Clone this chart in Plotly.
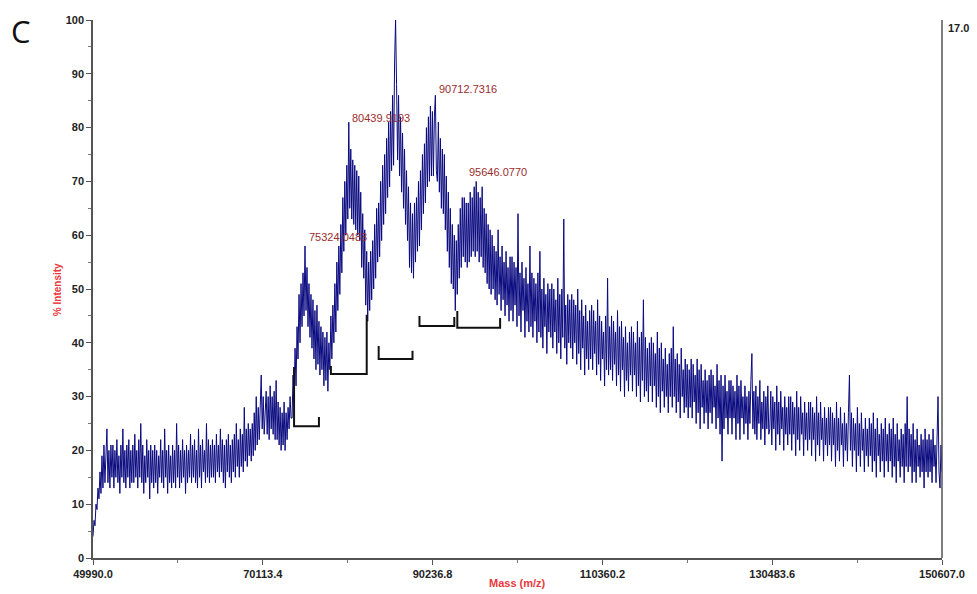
import numpy as np
import plotly.graph_objects as go

# ---- data ----
mass_start = 49990.0
mass_end = 150607.0

intensity = [
    4, 7, 6, 10, 9, 13, 11, 16, 12, 19, 13, 21, 14, 19, 24, 14, 20, 13, 21, 15,
    21, 13, 20, 15, 22, 14, 19, 12, 21, 15, 24, 14, 20, 13, 21, 15, 22, 13, 20, 14,
    21, 14, 23, 15, 20, 13, 22, 15, 25, 14, 21, 12, 19, 14, 22, 15, 20, 11, 21, 14,
    20, 13, 21, 14, 20, 12, 19, 15, 22, 14, 20, 13, 24, 15, 20, 12, 21, 14, 19, 13,
    21, 14, 20, 13, 25, 15, 21, 13, 20, 14, 22, 15, 20, 12, 21, 14, 20, 15, 23, 14,
    21, 15, 22, 14, 20, 13, 24, 15, 21, 13, 22, 16, 20, 14, 25, 15, 22, 14, 21, 15,
    22, 15, 21, 14, 23, 16, 21, 15, 24, 16, 22, 14, 21, 13, 22, 16, 23, 15, 21, 14,
    22, 16, 23, 15, 25, 17, 22, 15, 24, 17, 23, 16, 28, 18, 24, 17, 25, 19, 24, 18,
    25, 19, 27, 20, 30, 21, 28, 22, 29, 34, 24, 30, 23, 29, 31, 23, 30, 22, 32, 24,
    30, 23, 31, 22, 33, 22, 29, 21, 28, 20, 27, 21, 29, 20, 27, 22, 28, 24, 30, 26,
    26, 34, 29, 39, 32, 43, 37, 49, 40, 51, 43, 53, 45, 58, 46, 54, 43, 51, 41, 49,
    39, 48, 37, 46, 35, 47, 36, 44, 34, 43, 35, 42, 32, 41, 33, 42, 31, 40, 35, 45,
    37, 47, 40, 51, 42, 55, 46, 58, 49, 62, 53, 67, 57, 70, 60, 73, 63, 81, 65, 76,
    63, 74, 62, 73, 61, 72, 60, 71, 59, 68, 54, 64, 52, 61, 47, 57, 44, 55, 46, 57,
    48, 59, 50, 62, 52, 65, 55, 66, 56, 70, 59, 73, 62, 75, 64, 78, 67, 81, 69, 83,
    72, 86, 73, 92, 100, 88, 74, 86, 71, 82, 68, 79, 65, 76, 62, 72, 59, 69, 54, 66,
    53, 64, 52, 66, 55, 67, 57, 70, 58, 72, 61, 75, 64, 77, 66, 80, 69, 82, 70, 84,
    71, 83, 71, 82, 86, 72, 70, 81, 68, 78, 65, 76, 64, 75, 61, 71, 57, 68, 54, 65,
    51, 62, 50, 60, 46, 59, 49, 62, 52, 65, 54, 67, 56, 67, 55, 66, 54, 66, 55, 68,
    56, 67, 57, 69, 56, 70, 57, 68, 55, 67, 56, 69, 54, 65, 53, 64, 51, 62, 50, 61,
    49, 60, 50, 58, 48, 57, 47, 61, 49, 56, 46, 58, 48, 55, 45, 57, 47, 54, 44, 56,
    46, 56, 44, 55, 47, 54, 43, 64, 45, 53, 42, 55, 46, 52, 41, 54, 44, 51, 42, 58,
    43, 53, 41, 52, 44, 51, 40, 53, 42, 57, 41, 50, 39, 52, 43, 49, 38, 51, 42, 50,
    41, 51, 39, 50, 42, 48, 38, 52, 40, 49, 37, 50, 41, 63, 39, 47, 36, 49, 40, 48,
    39, 49, 37, 48, 40, 47, 36, 50, 38, 46, 35, 48, 39, 45, 34, 47, 37, 44, 35, 46,
    37, 47, 35, 46, 38, 44, 34, 48, 36, 45, 33, 44, 37, 42, 32, 45, 35, 52, 34, 43,
    35, 45, 33, 44, 36, 42, 32, 46, 34, 43, 31, 44, 35, 41, 30, 43, 33, 40, 31, 42,
    34, 43, 31, 42, 34, 40, 30, 44, 32, 41, 29, 42, 33, 48, 30, 41, 31, 39, 29, 40,
    32, 41, 29, 40, 32, 38, 28, 42, 30, 39, 27, 40, 31, 37, 28, 39, 30, 36, 27, 38,
    30, 39, 28, 43, 30, 37, 27, 38, 29, 36, 26, 39, 30, 35, 27, 37, 28, 36, 26, 35,
    28, 37, 26, 36, 29, 34, 25, 37, 27, 35, 24, 36, 28, 33, 25, 35, 27, 33, 24, 34,
    27, 35, 25, 34, 28, 32, 24, 36, 26, 33, 23, 34, 18, 32, 24, 34, 26, 31, 23, 33,
    26, 33, 23, 32, 26, 31, 22, 34, 25, 32, 22, 33, 26, 30, 23, 32, 25, 30, 22, 31,
    25, 33, 38, 24, 31, 23, 32, 22, 30, 25, 33, 22, 29, 24, 31, 21, 30, 24, 32, 23,
    24, 31, 21, 30, 24, 29, 20, 32, 23, 29, 21, 31, 24, 28, 20, 30, 23, 28, 21, 30,
    23, 30, 20, 29, 23, 28, 19, 31, 22, 28, 20, 30, 23, 27, 19, 29, 22, 27, 20, 29,
    22, 29, 19, 28, 22, 27, 18, 30, 21, 27, 19, 29, 22, 26, 18, 28, 21, 26, 19, 28,
    21, 28, 18, 27, 21, 26, 17, 29, 20, 26, 18, 28, 21, 25, 17, 27, 20, 25, 18, 27,
    34, 20, 27, 17, 26, 20, 25, 16, 28, 19, 25, 17, 27, 20, 24, 16, 26, 19, 24, 17,
    26, 19, 25, 16, 27, 18, 24, 15, 26, 19, 23, 16, 25, 18, 24, 15, 26, 18, 23, 16,
    25, 18, 24, 15, 26, 17, 23, 14, 25, 18, 22, 15, 24, 17, 23, 14, 25, 17, 30, 16,
    24, 17, 23, 14, 25, 16, 22, 14, 24, 17, 21, 15, 23, 16, 22, 13, 24, 16, 22, 15,
    23, 16, 22, 14, 24, 17, 21, 14, 23, 30, 16, 13, 21, 16,
]
mass = np.linspace(mass_start, mass_end, len(intensity))

peak_masses = [75324.0483, 80439.9193, 85827.3389, 90712.7316, 95646.0770]
peak_label_y = [59.7, 81.8, 101.1, 87.2, 71.7]
peak_label_shift = [0, 0, 0, 0, -11]

x_tickvals = [49990.0, 70113.4, 90236.8, 110360.2, 130483.6, 150607.0]
x_ticktext = ["49990.0", "70113.4", "90236.8", "110360.2", "130483.6", "150607.0"]
y_tickvals = [0, 10, 20, 30, 40, 50, 60, 70, 80, 90, 100]

# brackets (data units): left x, right x, base y, left-arm top, right-arm top
bracket_left = [73818, 78183, 83845, 88681, 93164]
bracket_right = [76767, 82429, 87856, 92810, 98237]
bracket_base = [24.5, 34.2, 37.0, 43.1, 42.8]
bracket_left_top = [35.5, 35.7, 39.4, 45.0, 45.9]
bracket_right_top = [26.2, 45.2, 38.5, 44.8, 44.6]

# ---- figure ----
fig = go.Figure()
fig.add_trace(go.Scatter(
    x=mass, y=intensity, mode="lines",
    line=dict(color="#0a0a80", width=1),
    hoverinfo="skip", showlegend=False,
))

shapes = []
for xl, xr, yb, ylt, yrt in zip(bracket_left, bracket_right, bracket_base,
                                bracket_left_top, bracket_right_top):
    shapes.append(dict(
        type="path", xref="x", yref="y",
        path=f"M {xl},{ylt} L {xl},{yb} L {xr},{yb} L {xr},{yrt}",
        line=dict(color="#111111", width=2),
    ))
# right-hand axis line
shapes.append(dict(type="line", xref="paper", yref="paper", x0=1, x1=1, y0=0, y1=1.0,
                   line=dict(color="#555555", width=1.5)))

annotations = []
for m, yy, sh in zip(peak_masses, peak_label_y, peak_label_shift):
    annotations.append(dict(
        x=m, y=yy, xref="x", yref="y", text=f"{m:.4f}", showarrow=False,
        xanchor="left", yanchor="middle", xshift=sh,
        font=dict(family="Liberation Sans, Arial", size=11, color="#9b2d2d"),
    ))

fig.update_layout(
    width=977, height=594,
    margin=dict(l=93, r=31, t=20, b=36),
    paper_bgcolor="white", plot_bgcolor="white",
    shapes=shapes,
    annotations=annotations,
    xaxis=dict(
        range=[mass_start, mass_end],
        tickvals=x_tickvals, ticktext=x_ticktext,
        ticks="outside", ticklen=5, tickcolor="#555555", tickwidth=1,
        minor=dict(tickvals=[(a + b) / 2 for a, b in zip(x_tickvals[:-1], x_tickvals[1:])],
                   ticks="outside", ticklen=3, tickcolor="#777777"),
        showline=True, linecolor="#555555", linewidth=1.5,
        showgrid=False, zeroline=False,
        tickfont=dict(family="Liberation Sans, Arial", size=11, color="#222222", weight="bold"),
    ),
    yaxis=dict(
        range=[0, 100],
        tickvals=y_tickvals,
        ticks="outside", ticklen=5, tickcolor="#555555", tickwidth=1,
        minor=dict(dtick=5, ticks="outside", ticklen=3, tickcolor="#777777"),
        showline=True, linecolor="#555555", linewidth=1.5,
        showgrid=False, zeroline=False,
        tickfont=dict(family="Liberation Sans, Arial", size=11, color="#222222", weight="bold"),
    ),
)

# text placed in pixel terms converted to paper coords
pl, pr, pt, pb = 93, 946, 20, 558
def px(x):
    return (x - pl) / (pr - pl)
def py(y):
    return (pb - y) / (pb - pt)

fig.add_annotation(x=px(21), y=py(31), xref="paper", yref="paper", text="C", showarrow=False,
                   xanchor="center", yanchor="middle",
                   font=dict(family="Open Sans, Liberation Sans", size=31, color="#111111"))
fig.add_annotation(x=px(950), y=py(28), xref="paper", yref="paper", text="17.0", showarrow=False,
                   xanchor="left", yanchor="middle",
                   font=dict(family="Liberation Sans, Arial", size=11, color="#222222", weight="bold"))
fig.add_annotation(x=px(57), y=py(290), xref="paper", yref="paper", text="% Intensity", showarrow=False,
                   textangle=-90, xanchor="center", yanchor="middle",
                   font=dict(family="Liberation Sans, Arial", size=10, color="#e8383d", weight="bold"))
fig.add_annotation(x=px(519), y=py(583), xref="paper", yref="paper", text="Mass (m/z)", showarrow=False,
                   xanchor="center", yanchor="middle",
                   font=dict(family="Liberation Sans, Arial", size=11, color="#e8383d", weight="bold"))

fig.write_html("out.html")
